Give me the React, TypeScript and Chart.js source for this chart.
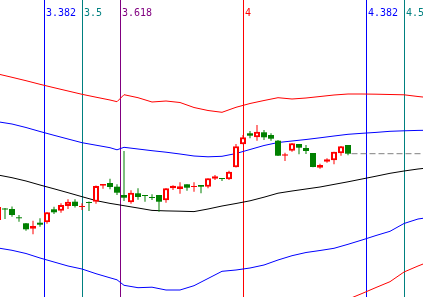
import React, { useEffect, useRef } from "react";
import { Chart, registerables } from "chart.js";

Chart.register(...registerables);

// ---- Candles (index positions) ----
const CANDLE_X = [
  -1, 0, 1, 2, 3, 4, 5, 6, 7, 8, 9, 10, 11, 12, 13, 14, 15, 16, 17, 18, 19, 20,
  21, 22, 23, 24, 25, 26, 27, 28, 29, 30, 31, 32, 33, 34, 35, 36, 37, 38, 39, 40,
  41, 42, 43, 44, 45, 46, 47, 48, 49,
];
const OPEN = [
  8.0, 9.05, 9.1, 8.17, 7.67, 7.13, 7.73, 7.77, 9.07, 8.93, 9.4, 9.83, 9.29, 9.7,
  9.83, 11.43, 11.7, 11.33, 10.5, 9.77, 10.67, 10.47, 10.2, 10.5, 9.97, 11.17,
  11.1, 11.57, 11.29, 11.5, 11.33, 12.13, 12.17, 12.07, 13.27, 15.57, 16.67,
  16.27, 16.77, 16.5, 15.93, 14.43, 14.93, 15.6, 15.2, 14.7, 13.23, 13.83, 13.97,
  14.67, 15.5,
];
const HIGH = [
  9.4, 9.2, 9.35, 8.5, 7.7, 7.93, 8.17, 8.8, 9.33, 9.67, 10.07, 10.07, 9.67, 9.85,
  11.45, 11.6, 12.13, 11.57, 14.9, 10.97, 11.17, 10.47, 10.57, 10.5, 11.2, 11.47,
  11.77, 11.57, 11.77, 11.5, 12.17, 12.5, 12.17, 12.93, 15.6, 16.5, 16.9, 17.5,
  17.0, 16.67, 16.0, 14.73, 15.7, 15.6, 15.5, 14.7, 13.63, 14.17, 14.83, 15.4,
  15.5,
];
const LOW = [
  7.9, 8.1, 8.33, 7.83, 6.93, 6.57, 7.33, 7.63, 8.6, 8.73, 9.1, 9.25, 9.0, 8.9,
  9.63, 11.13, 11.07, 10.5, 9.9, 9.63, 10.03, 9.83, 10.0, 8.83, 9.73, 11.0,
  10.63, 10.93, 10.83, 10.67, 11.17, 12.0, 11.9, 12.0, 13.25, 15.57, 16.17,
  15.93, 16.0, 15.93, 14.4, 13.9, 14.83, 14.57, 14.6, 13.27, 13.13, 13.73,
  13.57, 14.43, 14.47,
];
const CLOSE = [
  9.3, 9.05, 8.5, 8.17, 7.07, 7.4, 7.53, 8.77, 8.77, 9.5, 9.83, 9.4, 9.31, 9.7,
  11.4, 11.6, 11.3, 10.73, 10.23, 10.73, 10.3, 10.4, 10.2, 9.83, 11.17, 11.43,
  11.37, 11.23, 11.31, 11.33, 12.17, 12.37, 12.1, 12.83, 15.37, 16.27, 16.43,
  16.83, 16.27, 16.13, 14.43, 14.57, 15.67, 15.23, 14.9, 13.3, 13.5, 14.07,
  14.83, 15.37, 14.63,
];

// ---- Bands ----
const BAND_X = [
  -1, 1, 3, 5, 7, 9, 11, 13, 15, 16, 17, 19, 21, 23, 25, 27, 29, 31, 33, 35, 37,
  39, 41, 43, 45, 47, 49, 51, 53, 55, 57, 59, 61,
];
const RED_UPPER = [
  22.6, 22.27, 21.93, 21.57, 21.23, 20.9, 20.57, 20.28, 20.0, 19.83, 20.53, 20.23,
  19.8, 19.9, 19.75, 19.25, 18.95, 18.77, 19.27, 19.65, 19.95, 20.23, 20.1, 20.2,
  20.35, 20.5, 20.6, 20.6, 20.58, 20.55, 20.52, 20.35, 20.2,
];
const BLUE_UPPER = [
  17.82, 17.6, 17.25, 16.85, 16.47, 16.1, 15.73, 15.48, 15.23, 15.02, 15.27, 15.1,
  14.93, 14.78, 14.6, 14.4, 14.32, 14.37, 14.65, 15.05, 15.45, 15.75, 15.9, 16.05,
  16.22, 16.4, 16.57, 16.67, 16.76, 16.87, 16.92, 16.96, 16.98,
];
const MIDDLE = [
  12.5, 12.23, 11.9, 11.5, 11.12, 10.73, 10.33, 9.94, 9.66, 9.55, 9.43, 9.2, 8.96,
  8.91, 8.88, 8.84, 9.1, 9.4, 9.65, 9.92, 10.28, 10.68, 10.9, 11.1, 11.3, 11.56,
  11.82, 12.1, 12.38, 12.67, 12.9, 13.1, 13.25,
];
const BLUE_LOWER = [
  5.2, 4.97, 4.65, 4.2, 3.8, 3.4, 3.1, 2.63, 2.22, 2.02, 1.47, 1.23, 1.28, 1.0,
  1.0, 1.43, 2.15, 2.87, 3.0, 3.2, 3.5, 4.0, 4.43, 4.75, 4.95, 5.17, 5.57, 6.0,
  6.45, 6.87, 7.65, 8.1, 8.3,
];
const RED_LOWER = [
  null, null, null, null, null, null, null, null, null, null, null, null, null,
  null, null, null, null, null, null, null, null, null, null, null, -1.1, -0.5,
  0.07, 0.65, 1.25, 1.83, 2.8, 3.4, 3.95,
];

// ---- Fibonacci time zones ----
const FIB_LEVELS = [3.382, 3.5, 3.618, 4, 4.382, 4.5];
const FIB_LABELS = ["3.382", "3.5", "3.618", "4", "4.382", "4.5"];
const FIB_COLORS = ["#0000ff", "#008080", "#800080", "#ff0000", "#0000ff", "#008080"];
const FIB_ORIGIN = -150;
const FIB_UNIT = 46;

const X_MIN = -5 / 7;
const X_MAX = 418 / 7;
const Y_MIN = 0.3;
const Y_MAX = 30;

const RED = "#ff0000";
const GREEN = "#008000";

const fibPlugin = {
  id: "fibZones",
  beforeDatasetsDraw(chart: any) {
    const { ctx, chartArea, scales } = chart;
    const x = scales.x;
    ctx.save();
    FIB_LEVELS.forEach((lv, i) => {
      const px = Math.round(x.getPixelForValue(FIB_ORIGIN + lv * FIB_UNIT)) + 0.5;
      ctx.strokeStyle = FIB_COLORS[i];
      ctx.lineWidth = 1;
      ctx.beginPath();
      ctx.moveTo(px, chartArea.top);
      ctx.lineTo(px, chartArea.bottom);
      ctx.stroke();
    });
    ctx.restore();
  },
  afterDatasetsDraw(chart: any) {
    const { ctx, scales } = chart;
    const x = scales.x;
    ctx.save();
    ctx.font = '10px "DejaVu Sans Mono"';
    ctx.textBaseline = "alphabetic";
    ctx.textAlign = "left";
    FIB_LEVELS.forEach((lv, i) => {
      const px = Math.round(x.getPixelForValue(FIB_ORIGIN + lv * FIB_UNIT));
      ctx.fillStyle = FIB_COLORS[i];
      ctx.fillText(FIB_LABELS[i], px + 2, 16);
    });
    ctx.restore();
  },
};

export default function App() {
  const ref = useRef<HTMLCanvasElement | null>(null);

  useEffect(() => {
    document.body.style.margin = "0";
    if (!ref.current) return;
    const isUp = (i: number) => CLOSE[i] > OPEN[i];
    const lastIdx = CANDLE_X.length - 1;

    const band = (vals: (number | null)[], color: string) => ({
      type: "line" as const,
      data: BAND_X.map((x, i) => ({ x, y: vals[i] })),
      borderColor: color,
      borderWidth: 1,
      pointRadius: 0,
      tension: 0,
      spanGaps: false,
      order: 3,
    });

    const chart = new Chart(ref.current, {
      type: "bar",
      data: {
        datasets: [
          {
            type: "bar",
            label: "body",
            data: CANDLE_X.map((x, i) => ({ x, y: [OPEN[i], CLOSE[i]] })) as any,
            backgroundColor: CANDLE_X.map((_, i) => (isUp(i) ? "#ffffff" : GREEN)),
            borderColor: CANDLE_X.map((_, i) => (isUp(i) ? RED : GREEN)),
            borderWidth: CANDLE_X.map((_, i) => (isUp(i) ? 2 : 0)),
            borderSkipped: false,
            barThickness: 6,
            minBarLength: 1,
            grouped: false,
            inflateAmount: 0,
            order: 0,
          } as any,
          {
            type: "bar",
            label: "wick",
            data: CANDLE_X.map((x, i) => ({ x, y: [LOW[i], HIGH[i]] })) as any,
            backgroundColor: CANDLE_X.map((_, i) => (isUp(i) ? RED : GREEN)),
            borderWidth: 0,
            barThickness: 1,
            grouped: false,
            inflateAmount: 0,
            order: 1,
          } as any,
          {
            type: "line",
            label: "last",
            data: [
              { x: CANDLE_X[lastIdx] + 0.5, y: CLOSE[lastIdx] },
              { x: X_MAX, y: CLOSE[lastIdx] },
            ],
            borderColor: "#808080",
            borderWidth: 1,
            borderDash: [6, 3],
            pointRadius: 0,
            order: 2,
          } as any,
          band(RED_UPPER, RED) as any,
          band(BLUE_UPPER, "#0000ff") as any,
          band(MIDDLE, "#000000") as any,
          band(BLUE_LOWER, "#0000ff") as any,
          band(RED_LOWER, RED) as any,
        ],
      },
      options: {
        animation: false,
        responsive: false,
        devicePixelRatio: 1,
        events: [],
        layout: { padding: 0 },
        plugins: { legend: { display: false }, tooltip: { enabled: false } },
        scales: {
          x: { type: "linear", min: X_MIN, max: X_MAX, display: false, offset: false } as any,
          y: { type: "linear", min: Y_MIN, max: Y_MAX, display: false } as any,
        },
      },
      plugins: [fibPlugin],
    });
    return () => chart.destroy();
  }, []);

  return (
    <div style={{ position: "fixed", left: 0, top: 0, width: 423, height: 297, background: "#ffffff" }}>
      <canvas ref={ref} width={423} height={297} />
    </div>
  );
}
